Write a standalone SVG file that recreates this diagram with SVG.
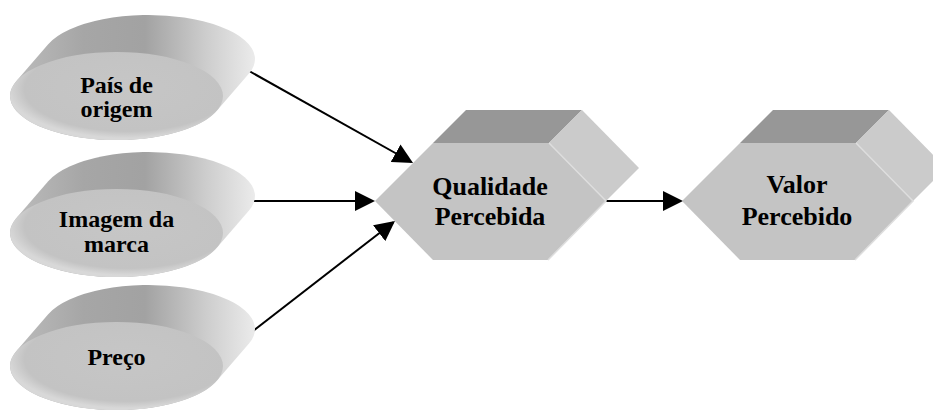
<svg xmlns="http://www.w3.org/2000/svg" xmlns:xlink="http://www.w3.org/1999/xlink" width="933" height="412" viewBox="0 0 933 412">
  <style>
    .label { font-family: 'Liberation Serif', 'Times New Roman', 'DejaVu Serif', serif; font-weight: bold; fill: #000; text-anchor: middle; }
    .small { font-size: 24px; }
    .big { font-size: 26px; }
    .side { fill: url(#sideGrad); }
    .front { fill: url(#frontGrad); }
    .hex-front { fill: #c4c4c4; }
    .hex-top { fill: #979797; }
    .hex-right { fill: #cbcbcb; }
    .hex-edge { fill: none; stroke: #dedede; stroke-width: 1.5; }
    .link { stroke: #000; stroke-width: 2; fill: none; marker-end: url(#head); }
  </style>
  <defs>
    <linearGradient id="sideGrad" x1="0" y1="0" x2="1" y2="0">
      <stop offset="0" stop-color="#bdbdbd"/>
      <stop offset="0.3" stop-color="#a6a6a6"/>
      <stop offset="0.55" stop-color="#a2a2a2"/>
      <stop offset="0.8" stop-color="#cdcdcd"/>
      <stop offset="1" stop-color="#ebebeb"/>
    </linearGradient>
    <radialGradient id="frontGrad" cx="0.55" cy="0.42" r="0.56">
      <stop offset="0" stop-color="#c6c6c6"/>
      <stop offset="0.86" stop-color="#c3c3c3"/>
      <stop offset="1" stop-color="#d8d8d8"/>
    </radialGradient>
    <!-- extruded oval: silhouette of the swept ellipse, centred on the front face -->
    <path id="cylSide" d="M100.3,14.8 L132.3,-22.2 A106.5,44 0 0 0 -68.3,-51.8 L-100.3,-14.8 A106.5,44 0 0 0 100.3,14.8 Z"/>
    <!-- extruded hexagon faces, centred on the front face -->
    <polygon id="hexTop" points="-57,-58 -24,-91 92,-91 59,-58"/>
    <polygon id="hexRight" points="59,-58 92,-91 149,-33 116,0"/>
    <polygon id="hexFront" points="-115,0 -57,-58 59,-58 116,0 58,59 -57,59"/>
    <marker id="head" markerUnits="userSpaceOnUse" markerWidth="20" markerHeight="20" refX="18" refY="10" orient="auto">
      <path d="M0,0 L20,10 L0,20 Z" fill="#000"/>
    </marker>
  </defs>

  <rect width="933" height="412" fill="#fff"/>

  <g id="connectors">
    <line class="link" x1="242" y1="67" x2="411.3" y2="162"/>
    <line class="link" x1="242" y1="201" x2="373" y2="201"/>
    <line class="link" x1="222" y1="355" x2="393.4" y2="222.2"/>
    <line class="link" x1="606" y1="201" x2="681" y2="201"/>
  </g>

  <g id="pais-de-origem" transform="translate(116.5,96)">
    <use xlink:href="#cylSide" class="side"/>
    <ellipse class="front" rx="106.5" ry="44"/>
    <text class="label small" font-family="Liberation Serif, serif" x="0" y="-3">País de</text>
    <text class="label small" font-family="Liberation Serif, serif" x="0" y="21">origem</text>
  </g>

  <g id="imagem-da-marca" transform="translate(116.5,233)">
    <use xlink:href="#cylSide" class="side"/>
    <ellipse class="front" rx="106.5" ry="44"/>
    <text class="label small" font-family="Liberation Serif, serif" x="0" y="-6">Imagem da</text>
    <text class="label small" font-family="Liberation Serif, serif" x="0" y="19">marca</text>
  </g>

  <g id="preco" transform="translate(116.5,366)">
    <use xlink:href="#cylSide" class="side"/>
    <ellipse class="front" rx="106.5" ry="44"/>
    <text class="label small" font-family="Liberation Serif, serif" x="0" y="-1">Preço</text>
  </g>

  <g id="qualidade-percebida" transform="translate(490,201)">
    <use xlink:href="#hexTop" class="hex-top"/>
    <use xlink:href="#hexRight" class="hex-right"/>
    <use xlink:href="#hexFront" class="hex-front"/>
    <polyline class="hex-edge" points="59,-58 116,0 58,59"/>
    <text class="label big" font-family="Liberation Serif, serif" x="0" y="-6">Qualidade</text>
    <text class="label big" font-family="Liberation Serif, serif" x="0" y="24">Percebida</text>
  </g>

  <g id="valor-percebido" transform="translate(797,201)">
    <use xlink:href="#hexTop" class="hex-top"/>
    <use xlink:href="#hexRight" class="hex-right"/>
    <use xlink:href="#hexFront" class="hex-front"/>
    <polyline class="hex-edge" points="59,-58 116,0 58,59"/>
    <text class="label big" font-family="Liberation Serif, serif" x="0" y="-8">Valor</text>
    <text class="label big" font-family="Liberation Serif, serif" x="0" y="24">Percebido</text>
  </g>
</svg>
